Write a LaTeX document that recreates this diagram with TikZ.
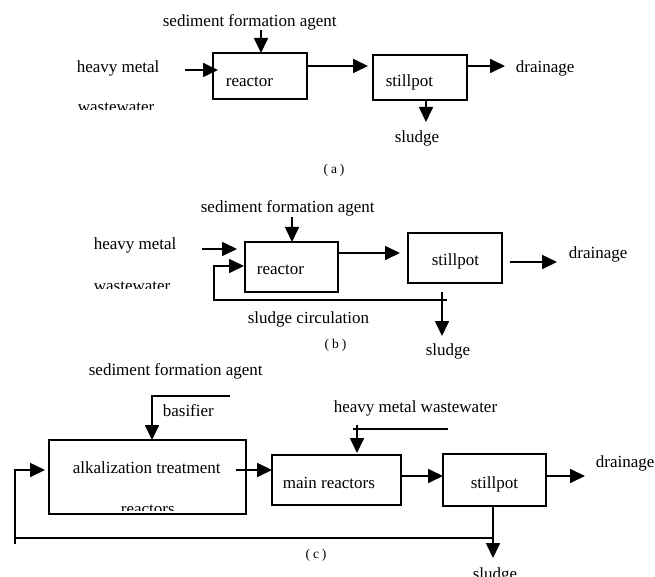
\documentclass[tikz,border=0pt]{standalone}
\usepackage{fontspec}
\setmainfont{Liberation Serif}
\usetikzlibrary{arrows.meta}
\begin{document}
\begin{tikzpicture}[x=1pt,y=-1pt,
  line width=1.7pt,
  box/.style={draw,line width=1.7pt,inner sep=0pt,outer sep=0pt},
  flow/.style={-{Triangle[length=15pt,width=14pt]}},
  lbl/.style={anchor=base west,inner sep=0pt,font=\fontsize{17}{20}\selectfont},
  panelcap/.style={anchor=center,inner sep=0pt,font=\fontsize{13.5}{15}\selectfont}]
\useasboundingbox (0,0) rectangle (655,577);

% ---------------- (a) simple precipitation ----------------
\node[box,minimum width=94pt,minimum height=46pt] (a-reac) at (260,76) {};
\node[box,minimum width=94pt,minimum height=45pt] (a-still) at (420,77.5) {};
\node[lbl] (a-sedt) at (162,27) {sediment formation agent};
\node[lbl] (a-hm) at (76,73) {heavy metal};
\begin{scope}
  \clip (60,95) rectangle (200,110);
  \node[lbl] (a-ww) at (77,113) {wastewater};
\end{scope}
\node[lbl] (a-rt) at (225,87) {reactor};
\node[lbl] (a-st) at (385,87) {stillpot};
\node[lbl] (a-dr) at (515,73) {drainage};
\node[lbl] (a-sl) at (394,143) {sludge};
\node[panelcap] (a-cap) at (334,170) {(\hspace{3pt}a\hspace{3pt})};

\coordinate (a-sed) at (261,30);
\coordinate (a-in) at (185,70);
\coordinate (a-lvl) at (0,66);
\coordinate (a-drain) at (505,66);
\coordinate (a-slend) at (426,122);

\draw[flow] (a-sed) -- (a-sed |- a-reac.north);
\draw[flow,shorten >=-5pt] (a-in) -- (a-in -| a-reac.west);
\draw[flow,shorten >=5pt] (a-reac.east |- a-lvl) -- (a-still.west |- a-lvl);
\draw[flow] (a-still.east |- a-lvl) -- (a-drain);
\draw[flow] (a-slend |- a-still.south) -- (a-slend);

% ---------------- (b) with sludge circulation ----------------
\node[box,minimum width=93pt,minimum height=50pt] (b-reac) at (291.5,267) {};
\node[box,minimum width=94pt,minimum height=50pt] (b-still) at (455,258) {};
\node[lbl] (b-sedt) at (200,213) {sediment formation agent};
\node[lbl] (b-hm) at (93,249) {heavy metal};
\begin{scope}
  \clip (80,270) rectangle (200,288);
  \node[lbl] (b-ww) at (93,291) {wastewater};
\end{scope}
\node[lbl] (b-rt) at (256,274) {reactor};
\node[lbl] (b-st) at (431,265) {stillpot};
\node[lbl] (b-dr) at (568,258) {drainage};
\node[lbl] (b-circ) at (247,323) {sludge circulation};
\node[lbl] (b-sl) at (425,355) {sludge};
\node[panelcap] (b-cap) at (335.5,345) {(\hspace{3pt}b\hspace{3pt})};

\coordinate (b-sed) at (292,217);
\coordinate (b-in) at (202,249);
\coordinate (b-lvl) at (0,253);
\coordinate (b-dstart) at (510,262);
\coordinate (b-drain) at (557,262);
\coordinate (b-rstart) at (447,300);
\coordinate (b-rcorner) at (214,300);
\coordinate (b-rup) at (214,266);
\coordinate (b-sltop) at (442,292);
\coordinate (b-slend) at (442,336);

\draw[flow] (b-sed) -- (b-sed |- b-reac.north);
\draw[flow,shorten >=8pt] (b-in) -- (b-in -| b-reac.west);
\draw[flow,shorten >=8pt] (b-reac.east |- b-lvl) -- (b-still.west |- b-lvl);
\draw[flow] (b-dstart) -- (b-drain);
\draw[flow,shorten >=1pt] (b-rstart) -- (b-rcorner) -- (b-rup) -- (b-rup -| b-reac.west);
\draw[flow] (b-sltop) -- (b-slend);

% ---------------- (c) with alkalization pre-treatment ----------------
\node[box,minimum width=197pt,minimum height=74pt] (c-alk) at (147.5,477) {};
\node[box,minimum width=129pt,minimum height=50pt] (c-main) at (336.5,480) {};
\node[box,minimum width=103pt,minimum height=52pt] (c-still) at (494.5,480) {};
\node[lbl] (c-sedt) at (88,375) {sediment formation agent};
\node[lbl] (c-bas) at (162,416) {basifier};
\node[lbl] (c-alkt) at (72,473) {alkalization treatment};
\begin{scope}
  \clip (100,495) rectangle (200,510);
  \node[lbl] (c-alkr) at (120,514) {reactors};
\end{scope}
\node[lbl] (c-hmw) at (333,412) {heavy metal wastewater};
\node[lbl] (c-mt) at (282,488) {main reactors};
\node[lbl] (c-st) at (470,488) {stillpot};
\node[lbl] (c-dr) at (595,467) {drainage};
\begin{scope}
  \clip (440,560) rectangle (540,577);
  \node[lbl] (c-sl) at (472,579) {sludge};
\end{scope}
\node[panelcap] (c-cap) at (316,555) {(\hspace{3pt}c\hspace{3pt})};

\coordinate (c-basr) at (230,396);
\coordinate (c-basl) at (152,396);
\coordinate (c-astart) at (236,470);
\coordinate (c-hmr) at (448,429);
\coordinate (c-hml) at (353,429);
\coordinate (c-hmtop) at (357,425);
\coordinate (c-out) at (0,476);
\coordinate (c-drain) at (585,476);
\coordinate (c-slend) at (493,558);
\coordinate (c-rjoin) at (493,538);
\coordinate (c-rcorner) at (15,538);
\coordinate (c-rbottom) at (15,544);
\coordinate (c-rup) at (15,470);

\draw[flow] (c-basr) -- (c-basl) -- (c-basl |- c-alk.north);
\draw[flow] (c-astart) -- (c-astart -| c-main.west);
\draw (c-hmr) -- (c-hml);
\draw[flow,shorten >=2pt] (c-hmtop) -- (c-hmtop |- c-main.north);
\draw[flow] (c-main.east |- c-out) -- (c-still.west |- c-out);
\draw[flow] (c-still.east |- c-out) -- (c-drain);
\draw[flow] (c-slend |- c-still.south) -- (c-slend);
\draw (c-rjoin) -- (c-rcorner);
\draw[flow,shorten >=4pt] (c-rbottom) -- (c-rup) -- (c-rup -| c-alk.west);
\end{tikzpicture}
\end{document}
